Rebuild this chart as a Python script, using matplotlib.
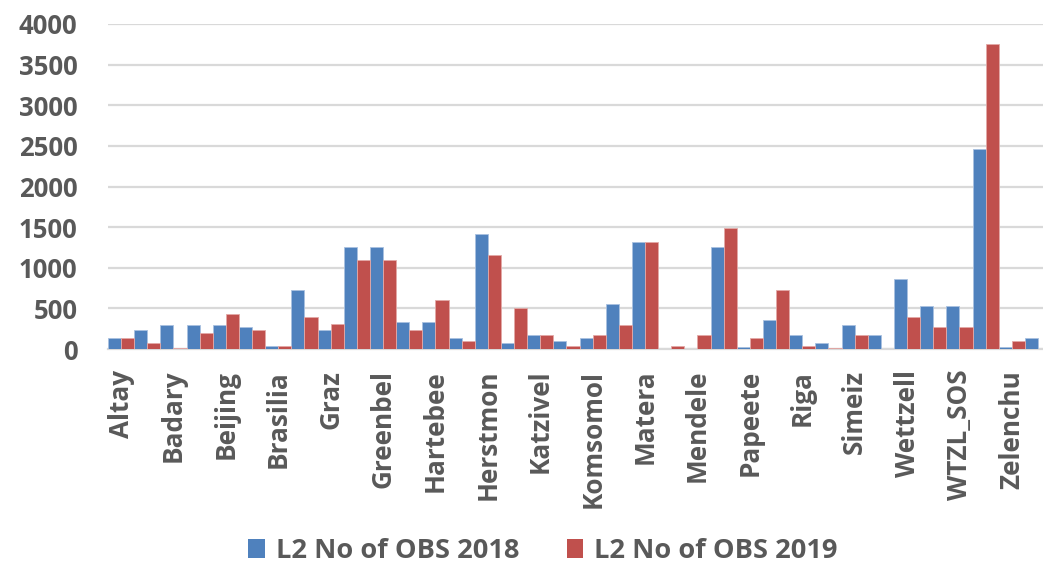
import numpy as np
import matplotlib
matplotlib.use("Agg")
import matplotlib.pyplot as plt
from matplotlib.patches import Patch

# every other station name is hidden in the original axis (Excel skips them)
shown_labels = ["Altay", "Badary", "Beijing", "Brasilia", "Graz", "Greenbel",
                "Hartebee", "Herstmon", "Katzivel", "Komsomol", "Matera",
                "Mendele", "Papeete", "Riga", "Simeiz", "Wettzell",
                "WTZL_SOS", "Zelenchu"]

obs_2018 = [140, 240, 300, 300, 300, 270, 40, 730, 240, 1250, 1250, 335,
            335, 140, 1420, 70, 170, 100, 140, 560, 1320, 0, 0, 1250,
            30, 360, 170, 70, 300, 170, 860, 530, 530, 2460, 20, 140]
obs_2019 = [140, 75, 15, 200, 430, 240, 40, 400, 310, 1090, 1090, 240,
            600, 100, 1160, 500, 170, 35, 170, 300, 1320, 35, 170, 1490,
            140, 730, 35, 15, 170, 0, 400, 270, 270, 3750, 100, 0]

series_names = ["L2 No of OBS 2018", "L2 No of OBS 2019"]
colors = ["#4f81bd", "#c0504d"]
text_color = "#595959"

plt.rcParams["font.family"] = ["Open Sans", "DejaVu Sans"]
plt.rcParams["font.weight"] = "bold"

fig = plt.figure(figsize=(10.43, 5.67), dpi=100)
ax = fig.add_axes([108 / 1043, 1 - 349 / 567, 1 - 108 / 1043, (349 - 24) / 567])

x = np.arange(len(obs_2018))
w = 0.5
ax.bar(x - w / 2, obs_2018, width=w, color=colors[0], edgecolor="#a9c1e0",
       linewidth=0.6, zorder=3)
ax.bar(x + w / 2, obs_2019, width=w, color=colors[1], edgecolor="#e3a9a7",
       linewidth=0.6, zorder=3)

ax.set_xlim(-0.5, 35.19)
ax.set_ylim(0, 4000)
ax.set_yticks(np.arange(0, 4001, 500))
ax.yaxis.grid(True, color="#d9d9d9", linewidth=1.6, zorder=0)
ax.set_axisbelow(True)
for side in ["top", "right", "left"]:
    ax.spines[side].set_visible(False)
ax.spines["bottom"].set_color("#d9d9d9")
ax.spines["bottom"].set_linewidth(1.6)

ax.tick_params(axis="y", length=0, pad=22, labelsize=18.5, labelcolor=text_color)
ax.tick_params(axis="x", length=0, pad=15, labelsize=18.8, labelcolor=text_color)
ax.set_xticks(x[::2])
ax.set_xticklabels(shown_labels, rotation=90, ha="center", va="top")
for lbl in ax.get_yticklabels() + ax.get_xticklabels():
    lbl.set_fontweight("bold")

handles = [Patch(facecolor=c) for c in colors]
leg = fig.legend(handles, series_names, loc="center",
                 bbox_to_anchor=(543 / 1043, 1 - 551 / 567), ncol=2,
                 frameon=False, fontsize=19.6, handlelength=0.6, handleheight=0.75,
                 handletextpad=0.4, columnspacing=1.75)
for t in leg.get_texts():
    t.set_color(text_color)
    t.set_fontweight("bold")

fig.savefig("out.png", dpi=100)
